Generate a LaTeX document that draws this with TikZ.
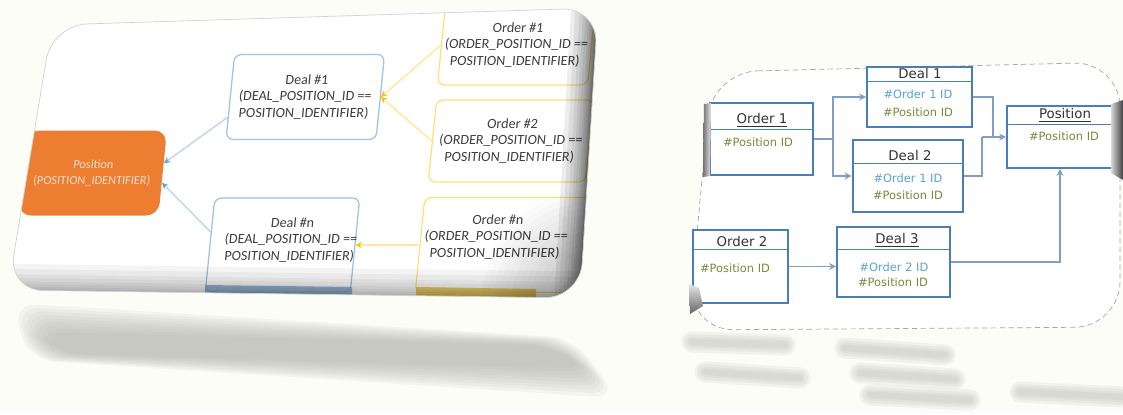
\documentclass[tikz,border=0pt]{standalone}
\usepackage{fontspec}
\setmainfont{Carlito}
\newfontfamily\rfont{DejaVu Sans}
\usetikzlibrary{arrows.meta,calc}
\definecolor{bgc}{RGB}{253,253,248}
\definecolor{posorange}{RGB}{237,125,49}
\definecolor{postext}{RGB}{250,222,200}
\definecolor{dealblue}{RGB}{157,195,230}
\definecolor{dealline}{RGB}{189,215,238}
\definecolor{ordyellow}{RGB}{255,224,120}
\definecolor{ordline}{RGB}{255,233,153}
\definecolor{arrowyellow}{RGB}{255,192,0}
\definecolor{ltext}{RGB}{64,64,64}
\definecolor{shadowgray}{RGB}{196,196,190}
\definecolor{boxblue}{RGB}{74,126,187}
\definecolor{connblue}{RGB}{127,159,200}
\definecolor{idblue}{RGB}{91,163,208}
\definecolor{idolive}{RGB}{122,138,58}
\definecolor{htext}{RGB}{50,50,50}
\definecolor{stripblue}{RGB}{140,172,206}
\definecolor{stripyellow}{RGB}{232,200,80}
\begin{document}
\begin{tikzpicture}[x=0.02cm,y=-0.02cm,
  lbox/.style={draw=dealblue, line width=0.7pt, rounded corners=4pt, fill=white, align=center, text=ltext, font=\fontsize{8}{9.5}\selectfont, transform shape, inner sep=2pt},
  obox/.style={lbox, draw=ordyellow},
  ltxt/.style={align=center, text=ltext, font=\fontsize{8}{9.5}\selectfont, transform shape, inner sep=0pt},
  pbox/.style={fill=posorange, rounded corners=7pt, align=center, text=postext, font=\fontsize{7}{9}\selectfont, transform shape, inner sep=2pt},
  bconn/.style={draw=dealline, line width=0.8pt, -{Stealth[length=3.5pt,width=3.5pt,color=idblue]}},
  yconn/.style={draw=ordline, line width=0.8pt, -{Stealth[length=3.5pt,width=3.5pt,color=arrowyellow]}},
  cbox/.style={draw=boxblue, line width=1pt, fill=white},
  hdr/.style={font=\rfont\fontsize{7.6}{9}\selectfont, text=htext, inner sep=0pt},
  idb/.style={font=\rfont\fontsize{6.5}{8}\selectfont, text=idblue, inner sep=0pt},
  ido/.style={font=\rfont\fontsize{6.5}{8}\selectfont, text=idolive, inner sep=0pt},
  rconn/.style={draw=connblue, line width=1.1pt},
  rarr/.style={rconn, -{Stealth[length=4pt,width=4pt]}},
  sepline/.style={draw=boxblue, line width=0.5pt},
]
\useasboundingbox (0,0) rectangle (1123,414);
\fill[bgc] (0,0) rectangle (1123,414);

% ---------- soft shadow of left panel
\foreach \k in {0,...,8} {
  \pgfmathsetmacro\fx{1-\k*3.5/300}
  \pgfmathsetmacro\fy{1-\k*3.5/46}
  \fill[shadowgray!90!black, opacity=0.11, rounded corners=14pt]
    ({315+(12-315)*\fx},{350+(303-350)*\fy}) -- ({315+(573-315)*\fx},{350+(338-350)*\fy})
    -- ({315+(618-315)*\fx},{350+(398-350)*\fy}) -- ({315+(29-315)*\fx},{350+(360-350)*\fy}) -- cycle;
}

% ---------- left panel
\begin{scope}
\clip[rounded corners=20pt] (52,25) -- (598,8) -- (580,298) -- (8,290) -- cycle;
\fill[white] (0,0) rectangle (620,320);
\begin{scope}[xslant=0.1]
\node[pbox, minimum width=2.8cm, minimum height=1.7cm] (posl) at (110,173) {Position\\(POSITION\_IDENTIFIER)};
\node[lbox, minimum width=3.0cm, minimum height=1.7cm] (d1l) at (315,97) {Deal \#1\\(DEAL\_POSITION\_ID ==\\POSITION\_IDENTIFIER)};
\node[lbox, minimum width=2.9cm, minimum height=1.88cm] (dnl) at (307,245) {};
\node[ltxt] (dnt) at (315,240) {Deal \#n\\(DEAL\_POSITION\_ID ==\\POSITION\_IDENTIFIER)};
\node[obox, minimum width=2.92cm, minimum height=1.6cm] (o1l) at (521,45) {Order \#1\\(ORDER\_POSITION\_ID ==\\POSITION\_IDENTIFIER)};
\node[obox, minimum width=3.14cm, minimum height=1.64cm] (o2l) at (525,141) {Order \#2\\(ORDER\_POSITION\_ID ==\\POSITION\_IDENTIFIER)};
\node[obox, minimum width=3.38cm, minimum height=1.9cm] (onl) at (529,245) {};
\node[ltxt] (ont) at (520,237) {Order \#n\\(ORDER\_POSITION\_ID ==\\POSITION\_IDENTIFIER)};
\draw[bconn] (d1l.195) -- (posl.8);
\draw[bconn] (dnl.170) -- (posl.-8);
\draw[yconn] (o1l.west) -- (d1l.east);
\draw[yconn] (o2l.west) -- (d1l.east);
\draw[yconn] (onl.west) -- (dnl.east);
\end{scope}
\fill[stripblue, opacity=0.85] (205,285) -- (352,287) -- (352,300) -- (205,300) -- cycle;
\fill[stripyellow, opacity=0.85] (416,287) -- (536,289) -- (536,300) -- (416,300) -- cycle;
% bevel: bottom edge
\foreach \w in {2,4,7,10,14,18,24,30}
  \draw[black, line width=\w pt, opacity=0.045] (0,290) -- (600,298);
% bevel: right edge
\foreach \w in {1,2,3,4,6,8,10,13,16,20,25,30}
  \draw[black, line width=\w pt, opacity=0.07] (598,0) -- (580,310);
% bevel: darker bottom-right corner
\foreach \r in {110,104,...,8}
  \fill[black, opacity=0.016] (592,300) circle[radius=\r];
\end{scope}
\draw[gray!35, line width=0.4pt, rounded corners=20pt] (52,25) -- (598,8) -- (580,298) -- (8,290) -- cycle;

% ---------- right panel
\draw[fill=white, draw=gray!70, densely dashed, line width=0.4pt, rounded corners=26pt] (712,72) -- (1120,62) -- (1120,327) -- (688,330) -- cycle;

\node[cbox, minimum width=2.06cm, minimum height=1.44cm] (o1) at (761.5,139) {};
\node[hdr] (o1h) at (762,120) {\underline{Order 1}};
\draw[sepline] ($(o1.north west)+(0,27)$) -- ($(o1.north east)+(0,27)$);
\node[ido] (o1a) at (758,142) {\#Position ID};

\node[cbox, minimum width=2.1cm, minimum height=1.2cm] (d1) at (919.5,97) {};
\node[hdr] (d1h) at (920,75) {\underline{Deal 1}};
\draw[sepline] ($(d1.north west)+(0,15)$) -- ($(d1.north east)+(0,15)$);
\node[idb] (d1a) at (918,94) {\#Order 1 ID};
\node[ido] (d1b) at (918,112) {\#Position ID};

\node[cbox, line width=1.6pt, minimum width=2.2cm, minimum height=1.44cm] (d2) at (908,176) {};
\node[hdr] (d2h) at (910,157) {\underline{Deal 2}};
\draw[sepline] ($(d2.north west)+(0,25)$) -- ($(d2.north east)+(0,25)$);
\node[idb] (d2a) at (908,178) {\#Order 1 ID};
\node[ido] (d2b) at (908,195) {\#Position ID};

\node[cbox, minimum width=2.12cm, minimum height=1.24cm] (pos) at (1060,137) {};
\node[hdr] (posh) at (1065,115) {\underline{Position}};
\draw[sepline] ($(pos.north west)+(0,19)$) -- ($(pos.north east)+(0,19)$);
\node[ido] (posa) at (1064,136) {\#Position ID};

\node[cbox, minimum width=1.9cm, minimum height=1.46cm] (o2) at (740.5,266.5) {};
\node[hdr] (o2h) at (742,243) {\underline{Order 2}};
\draw[sepline] ($(o2.north west)+(0,20)$) -- ($(o2.north east)+(0,20)$);
\node[ido] (o2a) at (735,268) {\#Position ID};

\node[cbox, minimum width=2.26cm, minimum height=1.4cm] (d3) at (893.5,262) {};
\node[hdr] (d3h) at (897,240) {\underline{Deal 3}};
\draw[sepline] ($(d3.north west)+(0,23)$) -- ($(d3.north east)+(0,23)$);
\node[idb] (d3a) at (894,267) {\#Order 2 ID};
\node[ido] (d3b) at (893,282) {\#Position ID};

\coordinate (j1) at (833,139);
\coordinate (j2) at (993,137);
\coordinate (j3) at (982,137);
\draw[rconn] (o1.east) -- (j1);
\draw[rarr] (j1) |- (d1.west);
\draw[rarr] (j1) |- (d2.west);
\draw[rconn] (d1.east) -| (j2);
\draw[rconn] (d2.east) -| (j3);
\draw[rarr] (j3) -- (pos.west);
\draw[rarr] (o2.east) -- (o2.east -| d3.west);
\draw[rarr] (d3.east) -| (pos.south);

% page curl effects
\shade[left color=gray!30, right color=black!75] (1111,104) -- (1123,100) -- (1123,180) -- (1111,173) -- cycle;
\shade[top color=gray!20, bottom color=black!60] (689,284) -- (699,288) -- (703,306) -- (690,314) -- cycle;
\shade[left color=black!55, right color=gray!20] (704,104) -- (711,103) -- (710,176) -- (703,177) -- cycle;

% blurred reflections under right panel
\foreach \ax/\ay/\bx/\by in {692/342/785/345, 705/372/800/378, 845/348/945/355, 860/373/955/379, 870/395/970/400, 1020/392/1123/397}
  {\foreach \w in {12,9,6,3.5}
     \draw[shadowgray!85!black, line width=\w pt, opacity=0.12, line cap=round] (\ax,\ay) -- (\bx,\by);}
\end{tikzpicture}
\end{document}
